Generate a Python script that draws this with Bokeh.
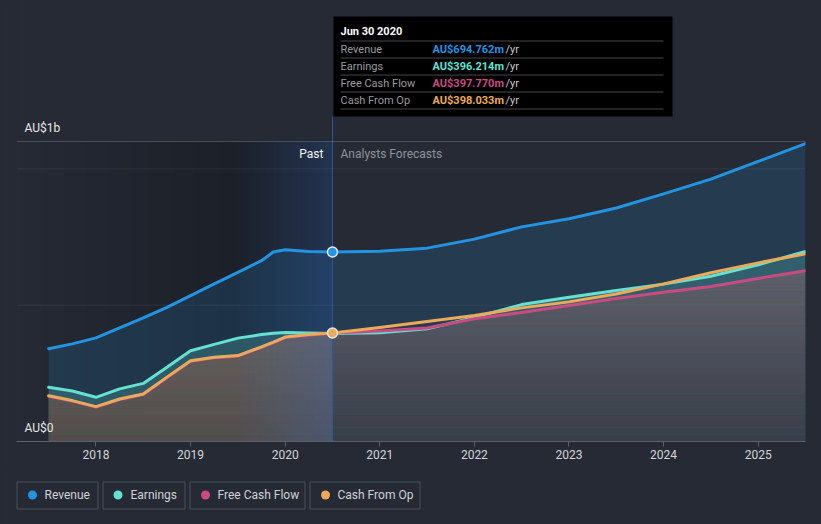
import numpy as np
from bokeh.plotting import figure
from bokeh.models import Range1d, FixedTicker, Span
from bokeh.layouts import column
from bokeh.embed import file_html
from bokeh.resources import INLINE
from bokeh.core.properties import value

# ---------------- data (AU$ millions) ----------------
years = [2017.5, 2017.75, 2018.0, 2018.25, 2018.5, 2018.75, 2019.0, 2019.25, 2019.5,
         2019.75, 2019.875, 2020.0, 2020.25, 2020.5,
         2021.0, 2021.5, 2022.0, 2022.5, 2023.0, 2023.5, 2024.0, 2024.5, 2025.0, 2025.5]
revenue = [340, 358, 380, 417, 453, 492, 535, 578, 620, 663, 695, 703, 697, 694.762,
           698, 709, 742, 787, 817, 856, 908, 962, 1027, 1092]
earnings = [199, 185, 162, 193, 213, 272, 333, 356, 379, 392, 397, 400, 398, 396.214,
            399, 413, 455, 502, 529, 554, 577, 606, 648, 697]
free_cash_flow = [166, 148, 126, 154, 172, 234, 294, 307, 313, 345, 362, 381, 390, 397.770,
                  405, 416, 450, 473, 499, 524, 547, 568, 598, 626]
cash_from_op = [168, 150, 128, 156, 174, 236, 296, 309, 315, 347, 364, 383, 392, 398.033,
                418, 440, 462, 490, 512, 541, 578, 619, 655, 688]
series_names = ["Revenue", "Earnings", "Free Cash Flow", "Cash From Op"]
year_ticks = [2018, 2019, 2020, 2021, 2022, 2023, 2024, 2025]
now_year = 2020.5
highlight_start = 2019.5
tooltip_date = "Jun 30 2020"

# ---------------- style ----------------
BG = "#252a35"
REV, EARN, FCF, CFO = "#2394e1", "#64e1d2", "#c84b82", "#ebaa5a"
colors = [REV, EARN, FCF, CFO]
FONT = "Roboto"

X0, X1 = 2017.16, 2025.5
Y1 = 1617.0
FL, FR, FB = 16, 805, 441

def dx(px):
    return X0 + (px - FL) * (X1 - X0) / (FR - FL)

def dy(py):
    return (FB - py) * Y1 / FB

def gradient_image(n, rgb, a0, a1):
    img = np.zeros((1, n), dtype=np.uint32)
    view = img.view(dtype=np.uint8).reshape((1, n, 4))
    view[0, :, 0] = rgb[0]
    view[0, :, 1] = rgb[1]
    view[0, :, 2] = rgb[2]
    view[0, :, 3] = (np.linspace(a0, a1, n) * 255).astype(np.uint8)
    return img

bg_style = {"background-color": BG}

p = figure(width=821, height=470, x_range=Range1d(X0, X1), y_range=Range1d(0, Y1),
           output_backend="svg", toolbar_location=None,
           min_border_left=16, min_border_right=16, min_border_top=0, min_border_bottom=29,
           y_axis_location=None, background_fill_color=BG, border_fill_color=BG,
           outline_line_color=None, frame_align=False, styles=bg_style)
p.grid.visible = False

ax = p.xaxis[0]
ax.ticker = FixedTicker(ticks=year_ticks)
ax.axis_line_color = "#5b616c"
ax.major_tick_line_color = "#5b616c"
ax.major_tick_in = 0
ax.major_tick_out = 5
ax.minor_tick_line_color = None
ax.major_label_standoff = 3
ax.major_label_text_color = "#d4d6da"
ax.major_label_text_font = FONT
ax.major_label_text_font_size = "12px"

# past shading (dark gradient)
a_end = 0.24 * (now_year - X0) / (highlight_start - X0)
p.image_rgba(image=[gradient_image(400, (0, 0, 0), 0.0, a_end)], x=X0, y=0,
             dw=now_year - X0, dh=1100)

# areas
p.varea(x=years, y1=0, y2=revenue, fill_color=REV, fill_alpha=0.16)
p.varea(x=years, y1=0, y2=earnings, fill_color=EARN, fill_alpha=0.22)
fcf_arr = np.array(free_cash_flow, dtype=float)
bot_c = np.array([58, 62, 72])
top_c = np.array([98, 100, 110])
band = 25
for k in range(30):
    lo, hi = k * band, (k + 1) * band
    t = (lo + band / 2) / 700
    c = bot_c + (top_c - bot_c) * min(t, 1)
    col = "#%02x%02x%02x" % tuple(int(v) for v in c)
    p.varea(x=years, y1=np.minimum(fcf_arr, lo), y2=np.minimum(fcf_arr, hi),
            fill_color=col, fill_alpha=1.0)

# warm tint of the past cash area
i_now = years.index(now_year)
p.varea(x=years[:i_now + 1], y1=0, y2=cash_from_op[:i_now + 1], fill_color=CFO,
        fill_alpha=0.14)

# last-year highlight
p.image_rgba(image=[gradient_image(200, (60, 110, 190), 0.03, 0.30)], x=highlight_start,
             y=0, dw=now_year - highlight_start, dh=1100)

# grid lines
p.add_layout(Span(location=500, dimension="width", line_color="white", line_alpha=0.06, line_width=1))
p.add_layout(Span(location=1000, dimension="width", line_color="white", line_alpha=0.06, line_width=1))
p.add_layout(Span(location=1100, dimension="width", line_color="white", line_alpha=0.18, line_width=1))

# now line
p.segment(x0=[now_year], y0=[0], x1=[now_year], y1=[dy(116)], line_color="#2a5a9a", line_width=1)

# series lines
for ys, c in zip([revenue, earnings, free_cash_flow, cash_from_op], colors):
    p.line(years, ys, line_color=c, line_width=3, line_join="round", line_cap="round")

p.scatter([now_year, now_year], [revenue[i_now], cash_from_op[i_now]], size=10,
          fill_color=[REV, CFO], line_color="#e6e6e6", line_width=1.5)

# labels
p.text(x=[X0, X0], y=[1100, 0], text=["AU$1b", "AU$0"], x_offset=8, y_offset=-7,
       text_baseline="bottom", text_align="left", text_color="#e8e8e8",
       text_font=value(FONT), text_font_size="12px")
p.text(x=[now_year], y=[1100], text=["Past"], x_offset=-9, y_offset=12,
       text_baseline="middle", text_align="right", text_color="#f2f2f2",
       text_font=value(FONT), text_font_size="12px")
p.text(x=[now_year], y=[1100], text=["Analysts Forecasts"], x_offset=8, y_offset=12,
       text_baseline="middle", text_align="left", text_color="#8e939c",
       text_font=value(FONT), text_font_size="12px")

# tooltip
p.quad(left=[dx(333)], right=[dx(672)], bottom=[dy(116)], top=[dy(16)],
       fill_color="black", line_color=None)
p.text(x=[dx(340)], y=[dy(31)], text=[tooltip_date], text_baseline="middle",
       text_color="white", text_font=value(FONT), text_font_size="11px",
       text_font_style="bold")
seps = [40.5, 57.5, 74.5, 91.5, 108.5]
p.segment(x0=[dx(340)] * 5, x1=[dx(663)] * 5, y0=[dy(s) for s in seps],
          y1=[dy(s) for s in seps], line_color="#474747", line_width=1)
rows_y = [48.5, 65.5, 82.5, 99.5]
now_vals = [revenue[i_now], earnings[i_now], free_cash_flow[i_now], cash_from_op[i_now]]
p.text(x=[dx(340)] * 4, y=[dy(r) for r in rows_y], text=series_names,
       text_baseline="middle", text_color="#9a9a9a", text_font=value(FONT),
       text_font_size="11px")
p.text(x=[dx(432)] * 4, y=[dy(r) for r in rows_y],
       text=["AU$%.3fm" % v for v in now_vals], text_baseline="middle",
       text_color=colors, text_font=value(FONT), text_font_size="11px",
       text_font_style="bold")
p.text(x=[dx(505)] * 4, y=[dy(r) for r in rows_y], text=["/yr"] * 4,
       text_baseline="middle", text_color="#c8c8c8", text_font=value(FONT),
       text_font_size="11px")

# ---------------- legend ----------------
q = figure(width=821, height=54, x_range=Range1d(0, 821), y_range=Range1d(54, 0),
           output_backend="svg", toolbar_location=None, min_border=0,
           min_border_left=0, min_border_right=0, min_border_top=0, min_border_bottom=0,
           x_axis_location=None, y_axis_location=None,
           background_fill_color=BG, border_fill_color=BG, outline_line_color=None,
           frame_align=False, styles=bg_style)
q.grid.visible = False
box_l = [16.5, 102.5, 189.5, 309.5]
box_r = [97.5, 184.5, 304.5, 419.5]
mark_x = [32, 117.5, 205, 325]
text_x = [44, 130, 217, 337]
q.quad(left=box_l, right=box_r, top=11.5, bottom=38.5, fill_color=None,
       line_color="#4a505b", line_width=1)
q.scatter(x=mark_x, y=[24.5] * 4, size=9, fill_color=colors, line_color=None)
q.text(x=text_x, y=[24.5] * 4, text=series_names, text_baseline="middle",
       text_color="#cfd2d6", text_font=value(FONT), text_font_size="12px")

layout = column(p, q, spacing=0, styles=bg_style)
open("out.html", "w").write(file_html(layout, INLINE))
